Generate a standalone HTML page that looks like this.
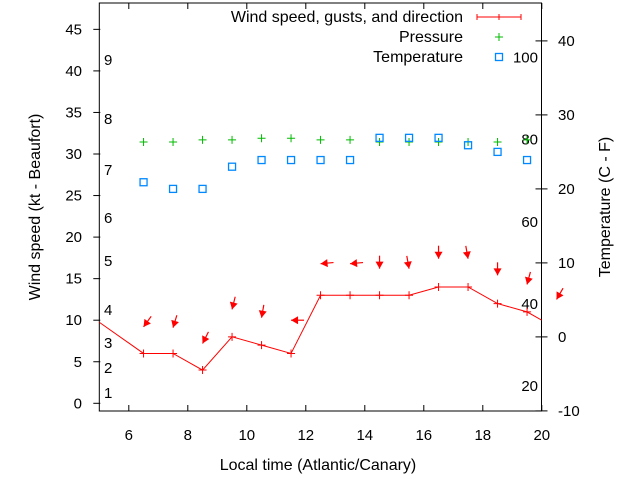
<!DOCTYPE html>
<html><head><meta charset="utf-8"><style>
body{margin:0;background:#fff;}
svg text{font-family:"Liberation Sans",sans-serif;font-size:15px;fill:#000;}
svg text.big{font-size:16px;}
</style></head><body>
<svg id="chart" width="640" height="480" xmlns="http://www.w3.org/2000/svg">
<g id="axes"></g>
<g id="marks"></g>
<g id="legend"></g>
</svg>
<script>
const hours = [4.5,6.5,7.5,8.5,9.5,10.5,11.5,12.5,13.5,14.5,15.5,16.5,17.5,18.5,19.5,20.5];
const windSpeed = [11,6,6,4,8,7,6,13,13,13,13,14,14,12,11,9];
const gusts = [null,9.2,9.1,7.2,11.3,10.3,10,16.8,16.8,16.2,16.2,17.4,17.4,15.4,14.3,12.5];
const dirFrom = [null,36,17,27,14,10,90,85,85,0,350,0,350,0,15,30];
const pHours = [6.5,7.5,8.5,9.5,10.5,11.5,12.5,13.5,14.5,15.5,16.5,17.5,18.5,19.5];
const pressure = [31.45,31.45,31.7,31.7,31.9,31.9,31.7,31.7,31.45,31.45,31.45,31.45,31.45,31.7];
const tempC = [20.9,20.0,20.0,23.0,23.9,23.9,23.9,23.9,26.9,26.9,26.9,25.9,25.0,23.9];
const xTicks = [6,8,10,12,14,16,18,20];
const yTicks = [0,5,10,15,20,25,30,35,40,45];
const y2Ticks = [-10,0,10,20,30,40];
const fTicks = [20,40,60,80,100];
const beaufort = [1,2,3,4,5,6,7,8,9];
const beaufortKt = [1.25,4.25,7.25,11.2,17.1,22.3,28.1,34.2,41.3];

const L=99.3,R=541.5,T=3,B=411;
const X=v=>L+(v-5)*29.5;
const Y=v=>403.3-v*8.31;
const Y2=v=>336.9-v*7.4;
const NS='http://www.w3.org/2000/svg';
function mk(tag,attrs,parent){const e=document.createElementNS(NS,tag);for(const k in attrs)e.setAttribute(k,attrs[k]);parent.appendChild(e);return e;}
const ax=document.getElementById('axes'),mk_=document.getElementById('marks'),lg=document.getElementById('legend');

const defs=mk('defs',{},document.getElementById('chart'));
const cp=mk('clipPath',{id:'pc'},defs);mk('rect',{x:L,y:T,width:R-L,height:B-T},cp);

let e=mk('rect',{x:L,y:T,width:R-L,height:B-T,fill:'none',stroke:'#000','stroke-width':1},ax);


xTicks.forEach(v=>{
  e=mk('line',{x1:X(v),x2:X(v),y1:B,y2:B-6,stroke:'#000'},ax);
  
  mk('line',{x1:X(v),x2:X(v),y1:T,y2:T+6,stroke:'#000'},ax);
  e=mk('text',{x:X(v),y:440,'text-anchor':'middle'},ax);e.textContent=v;
  
});
yTicks.forEach(v=>{
  e=mk('line',{x1:L-6,x2:L+1,y1:Y(v),y2:Y(v),stroke:'#000'},ax);
  
  e=mk('text',{x:82,y:Y(v)+5,'text-anchor':'end'},ax);e.textContent=v;
  
});
y2Ticks.forEach(v=>{
  e=mk('line',{x1:R-6,x2:R+6,y1:Y2(v),y2:Y2(v),stroke:'#000'},ax);
  
  e=mk('text',{x:558,y:Y2(v)+5},ax);e.textContent=v;
  
});
fTicks.forEach(v=>{
  const c=(v-32)*5/9;
  e=mk('text',{x:538,y:Y2(c)+5,'text-anchor':'end'},ax);e.textContent=v;
  
});
beaufort.forEach((b,i)=>{
  e=mk('text',{x:104,y:Y(beaufortKt[i])+5},ax);e.textContent=b;
  
});
e=mk('text',{x:318,y:470,'text-anchor':'middle','class':'big'},ax);e.textContent='Local time (Atlantic/Canary)';

e=mk('text',{x:0,y:0,'text-anchor':'middle','class':'big',transform:'translate(40,207) rotate(-90)'},ax);e.textContent='Wind speed (kt - Beaufort)';

e=mk('text',{x:0,y:0,'text-anchor':'middle','class':'big',transform:'translate(610,207) rotate(-90)'},ax);e.textContent='Temperature (C - F)';


const wg=mk('g',{'clip-path':'url(#pc)'},mk_);
e=mk('polyline',{points:hours.map((h,i)=>X(h)+','+Y(windSpeed[i])).join(' '),fill:'none',stroke:'#f00','stroke-width':1},wg);

hours.forEach((h,i)=>{
  e=mk('path',{d:`M${X(h)-4},${Y(windSpeed[i])}h8M${X(h)},${Y(windSpeed[i])-4}v8`,stroke:'#f00'},wg);
  
});
hours.forEach((h,i)=>{
  if(gusts[i]==null)return;
  const hx=X(h),hy=Y(gusts[i]),a=dirFrom[i]*Math.PI/180;
  const ux=-Math.sin(a),uy=Math.cos(a),len=13;
  const tx=hx-ux*len,ty=hy-uy*len;
  const px=-uy,py=ux;
  const bx=hx-ux*7,by=hy-uy*7;
  e=mk('g',{},mk_);
  
  mk('line',{x1:tx,y1:ty,x2:hx,y2:hy,stroke:'#f00','stroke-width':1.2},e);
  mk('polygon',{points:`${hx},${hy} ${bx+px*4},${by+py*4} ${bx-px*4},${by-py*4}`,fill:'#f00'},e);
});
pHours.forEach((h,i)=>{
  e=mk('path',{d:`M${X(h)-4},${Y(pressure[i])}h8M${X(h)},${Y(pressure[i])-4}v8`,stroke:'#0b0'},mk_);
  
});
pHours.forEach((h,i)=>{
  e=mk('rect',{x:X(h)-3.5,y:Y2(tempC[i])-3.5,width:7,height:7,fill:'none',stroke:'#08f','stroke-width':1.3},mk_);
  
});

[['Wind speed, gusts, and direction',17],['Pressure',37],['Temperature',57]].forEach((r,i)=>{
  e=mk('text',{x:463,y:r[1]+5,'text-anchor':'end','class':'big'},lg);e.textContent=r[0];
  
});
e=mk('path',{d:'M477,17h44M477,14v6M521,14v6M499,14v6',stroke:'#f00'},lg);

e=mk('path',{d:'M495,37h8M499,33v8',stroke:'#0b0'},lg);

e=mk('rect',{x:495.5,y:53.5,width:7,height:7,fill:'none',stroke:'#08f','stroke-width':1.3},lg);

</script>
</body></html>
